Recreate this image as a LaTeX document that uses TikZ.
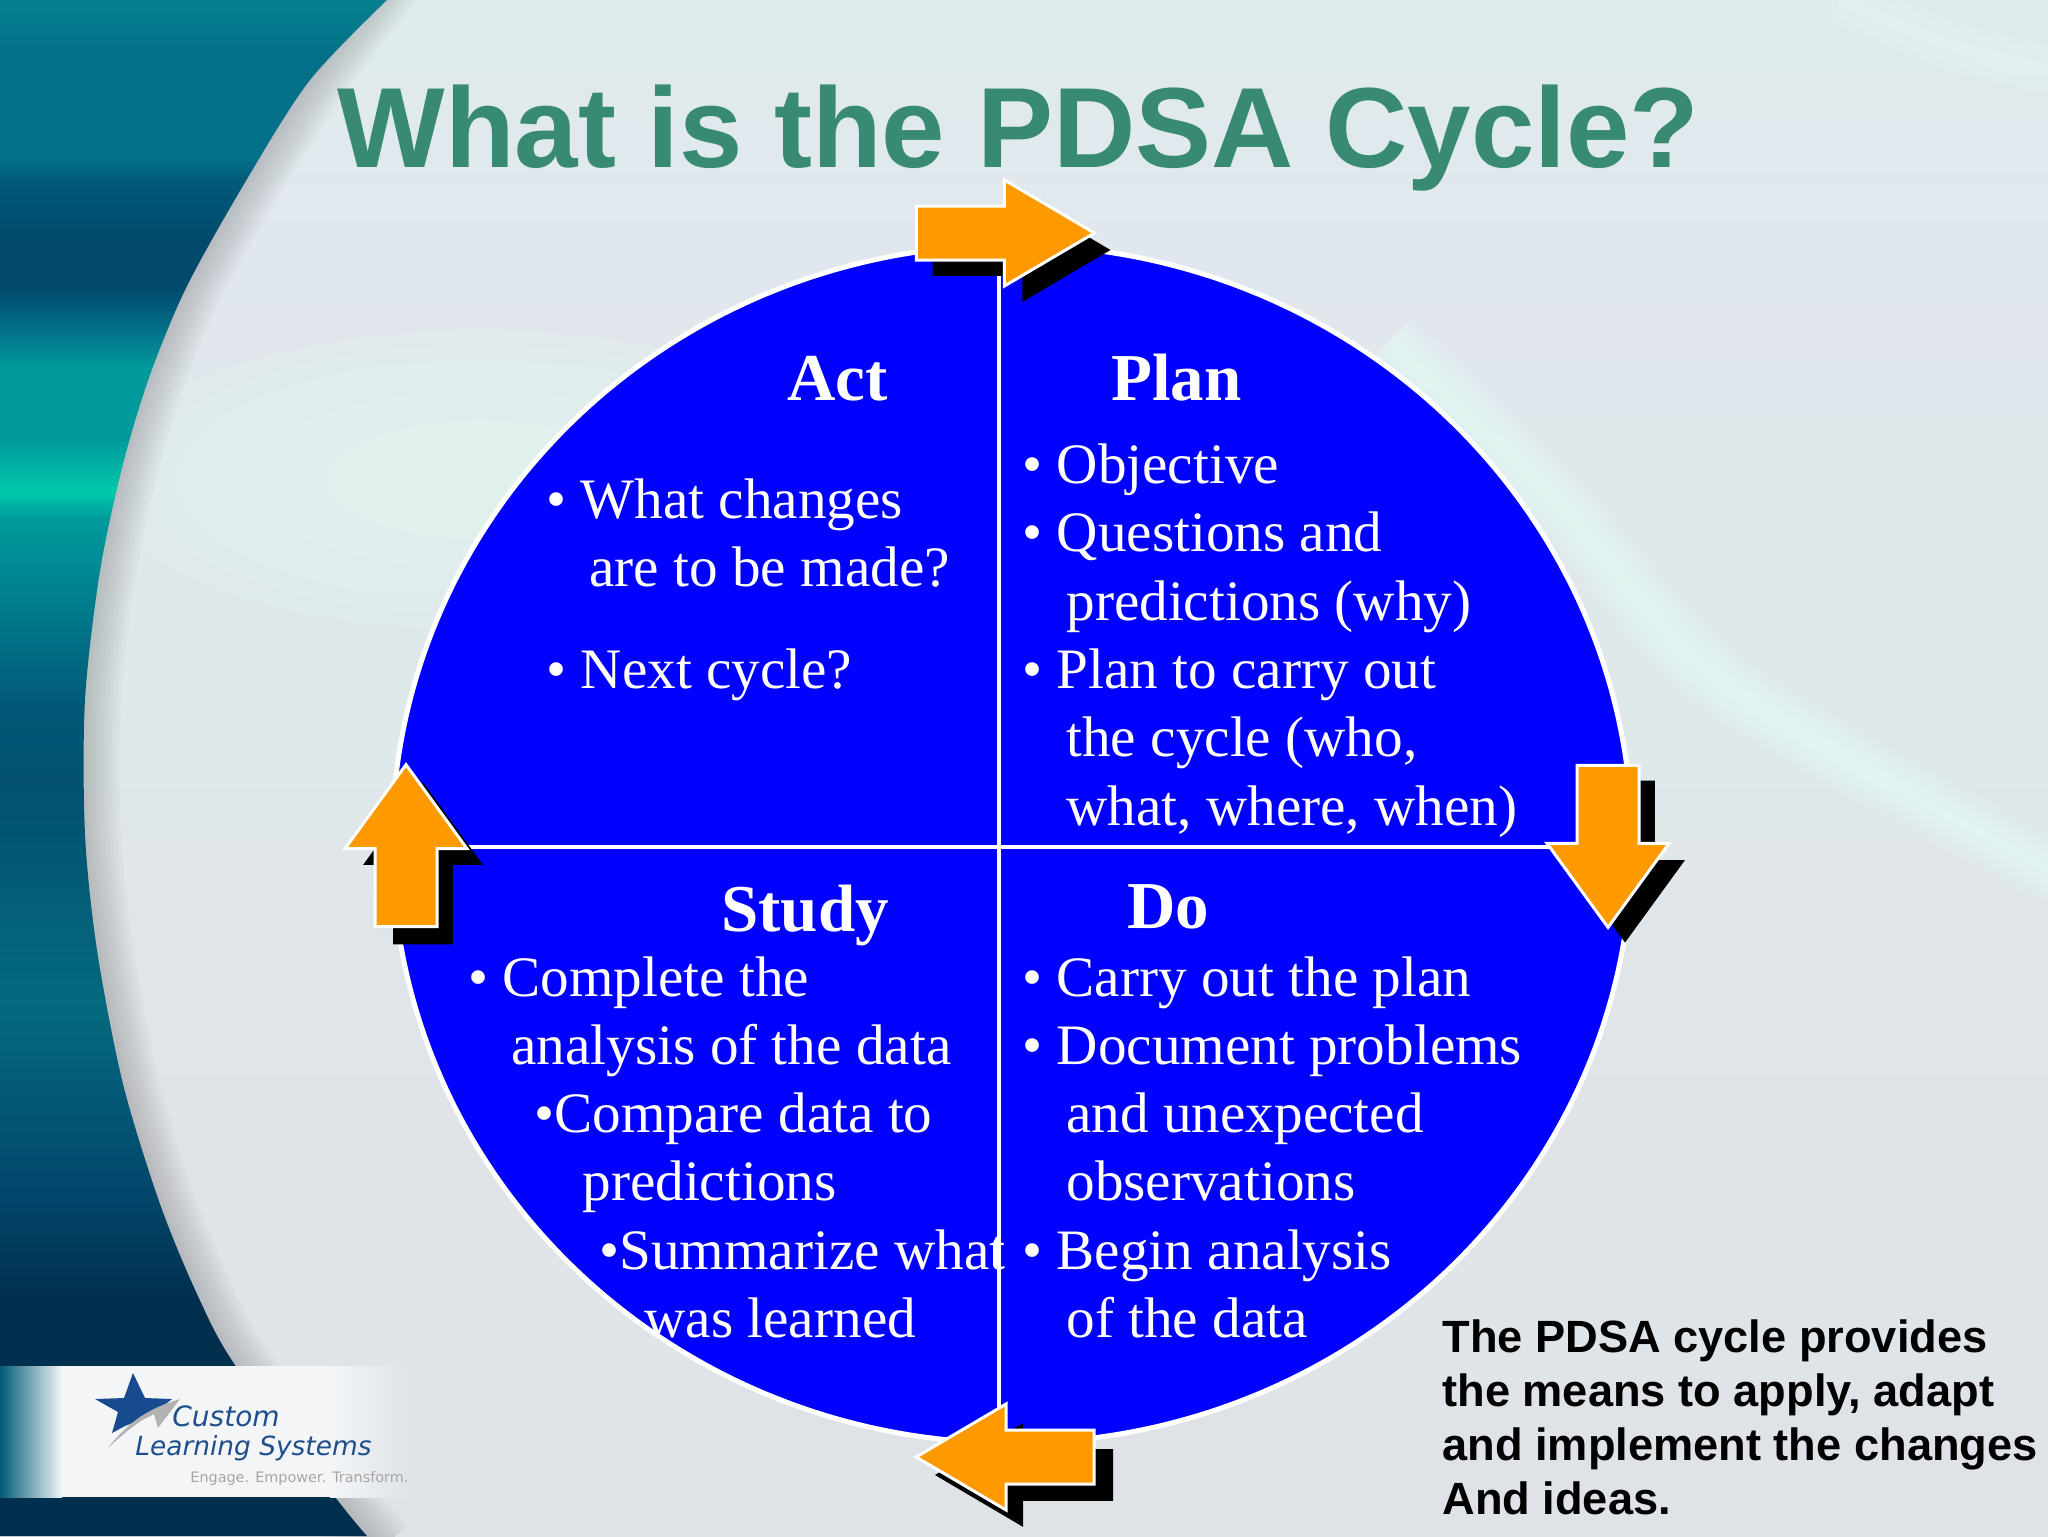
\documentclass[tikz,border=0pt]{standalone}
\usepackage{fontspec}
\usepackage{xcolor}
\usepackage{tikz}
\usetikzlibrary{shapes.arrows,shapes.geometric}
\setmainfont{Liberation Serif}
\newfontfamily\headfont{Liberation Sans}
\newfontfamily\logofont{DejaVu Sans}
\definecolor{discblue}{rgb}{0.0,0.0,1.0}
\definecolor{arroworange}{HTML}{FF9900}
\definecolor{titlegreen}{HTML}{388B72}
\definecolor{logoblue}{HTML}{1F4E8C}
\definecolor{starblue}{HTML}{174A8F}
\definecolor{stripwhite}{HTML}{F3F5F7}
\definecolor{mintglow}{HTML}{E6FFF8}
\definecolor{paleA}{HTML}{DFECEC}
\definecolor{paleB}{HTML}{E1E7EE}
\definecolor{paleC}{HTML}{DFE9EA}
\definecolor{paleD}{HTML}{E0E5E9}
\definecolor{paleE}{HTML}{DFE3E7}
\definecolor{tealA}{HTML}{05808F}
\definecolor{tealB}{HTML}{036F88}
\definecolor{tealC}{HTML}{015A78}
\definecolor{tealD}{HTML}{014A6C}
\definecolor{tealE}{HTML}{009A9C}
\definecolor{tealF}{HTML}{00C8AC}
\definecolor{tealG}{HTML}{007F8E}
\definecolor{tealH}{HTML}{03506F}
\definecolor{tealI}{HTML}{046A80}
\definecolor{tealJ}{HTML}{02456A}
\definecolor{tealK}{HTML}{012F4E}
\pgfdeclareverticalshading{tealband}{100bp}{color(0bp)=(tealK); color(25bp)=(tealK); color(32.7bp)=(tealK); color(35.9bp)=(tealJ); color(42.4bp)=(tealI); color(49.6bp)=(tealH); color(52.2bp)=(tealC); color(55.5bp)=(tealG); color(58.1bp)=(tealE); color(59bp)=(tealF); color(60.7bp)=(tealE); color(63bp)=(tealE); color(64.3bp)=(tealB); color(65.6bp)=(tealD); color(67.2bp)=(tealD); color(69.1bp)=(tealC); color(69.8bp)=(tealB); color(73bp)=(tealB); color(75bp)=(tealA); color(100bp)=(tealA)}
\pgfdeclareverticalshading{paleband}{100bp}{color(0bp)=(paleE); color(25bp)=(paleE); color(45bp)=(paleD); color(52bp)=(paleC); color(67bp)=(paleB); color(75bp)=(paleA); color(100bp)=(paleA)}
\tikzset{
	headtext/.style={anchor=base west, text=white, inner sep=0pt, font=\fontsize{33.5}{33.5}\selectfont\bfseries},
	bodytext/.style={anchor=base west, text=white, inner sep=0pt, font=\fontsize{28.6}{28.6}\selectfont},
	notetext/.style={anchor=base west, text=black, inner sep=0pt, font=\headfont\fontsize{22.6}{22.6}\selectfont\bfseries},
	cyclearrow/.style={single arrow, inner sep=0pt, outer sep=0pt, single arrow head indent=0pt, text depth=0pt},
	longarrow/.style={cyclearrow, text height=25.5pt, minimum height=89pt, single arrow head extend=13pt, single arrow tip angle=61},
	shortarrow/.style={cyclearrow, text height=29.5pt, minimum height=81pt, single arrow head extend=15pt, single arrow tip angle=72},
	orangefill/.style={fill=arroworange, draw=white, line width=1.5pt},
	blackfill/.style={fill=black}
}

\begin{document}
\begin{tikzpicture}[x=0.5pt,y=-0.5pt]
	\useasboundingbox (0,0) rectangle (2048,1536);
	\shade[shading=paleband] (0,0) rectangle (2048,1536);

	% soft glows on the pale part
	\foreach \w in {32,28,24,20,16,12,8,4}
		\draw[mintglow, opacity=0.12, line width=\w pt] plot[smooth] coordinates {(1390,340) (1567,514) (1729,688) (2060,875)};
	\foreach \w in {24,18,12,6}
		\draw[mintglow, opacity=0.1, line width=\w pt] plot[smooth] coordinates {(1840,0) (1950,45) (2060,72)};
	\foreach \r in {1,0.9,0.8,0.7,0.6,0.5,0.4,0.3}
		\fill[mintglow, opacity=0.09] (480,480) ellipse ({\r*380} and {\r*150});

	% shade beside the swoosh, then the swoosh
	\foreach \w in {36,32,28,24,20,16,12,8,4}
		\draw[gray, opacity=0.05, line width=\w pt] plot[smooth] coordinates {(387,-20) (310,80) (247,179) (187,286) (150,375) (123,464) (100,571) (85,700) (85,834) (97,950) (123,1084) (160,1204) (197,1294) (235,1365) (335,1497) (380,1550)};
	\shade[shading=tealband] (0,0) -- (387,0) -- plot[smooth] coordinates {(387,0) (310,80) (247,179) (187,286) (150,375) (123,464) (100,571) (85,700) (85,834) (97,950) (123,1084) (160,1204) (197,1294) (235,1365) (335,1497) (367,1536)} -- (0,1536) -- cycle;

	% logo strip
	\shade[left color=tealC, right color=stripwhite] (0,1366) rectangle (62,1497);
	\fill[stripwhite] (62,1366) rectangle (330,1497);
	\shade[left color=stripwhite, right color=paleE] (330,1366) rectangle (410,1497);
	\fill[starblue] (133,1373) -- (145,1398) -- (172,1399) -- (150,1416) -- (125,1426) -- (112,1433) -- (118,1412) -- (95,1399) -- (124,1398) -- cycle;
	\fill[gray!60] (108,1448) .. controls (130,1420) and (150,1408) .. (180,1399) -- (158,1428) -- (154,1414) .. controls (140,1420) and (125,1432) .. (108,1448) -- cycle;
	\node[anchor=base west, inner sep=0pt, text=logoblue, font=\logofont\itshape\fontsize{14}{14}\selectfont] (logotop) at (172,1426) {Custom};
	\node[anchor=base west, inner sep=0pt, text=logoblue, font=\logofont\itshape\fontsize{13.2}{13.2}\selectfont] (logomid) at (135,1455) {Learning Systems};
	\node[anchor=base west, inner sep=0pt, text=gray!70, font=\logofont\fontsize{7.2}{7.2}\selectfont] (logolow) at (190,1482) {Engage. Empower. Transform.};

	\node[anchor=base west, inner sep=0pt, text=titlegreen, font=\headfont\fontsize{57}{57}\selectfont\bfseries] (title) at (337,167) {What is the PDSA Cycle?};

	\node[ellipse, minimum width=620pt, minimum height=599pt, inner sep=0pt, fill=discblue, draw=white, line width=2.5pt] (disc) at (1012,844) {};

	\node[headtext] (acthead) at (787,400) {Act};
	\node[headtext] (planhead) at (1111,400) {Plan};
	\node[headtext] (studyhead) at (721,931) {Study};
	\node[headtext] (dohead) at (1127,928) {Do};

	\foreach \x/\y/\txt [count=\i] in {546/518/{• What changes}, 589/586/{are to be made?}, 546/688/{• Next cycle?}}
		\node[bodytext] (act\i) at (\x,\y) {\txt};
	\foreach \x/\y/\txt [count=\i] in {1022/483/{• Objective}, 1022/551/{• Questions and}, 1066/620/{predictions (why)}, 1022/688/{• Plan to carry out}, 1066/756/{the cycle (who,}, 1066/825/{what, where, when)}}
		\node[bodytext] (plan\i) at (\x,\y) {\txt};
	\foreach \x/\y/\txt [count=\i] in {468/996/{• Complete the}, 511/1064/{analysis of the data}, 534/1132/{•Compare data to}, 582/1200/{predictions}, 599/1269/{•Summarize what}, 644/1337/{was learned}}
		\node[bodytext] (study\i) at (\x,\y) {\txt};
	\foreach \x/\y/\txt [count=\i] in {1022/996/{• Carry out the plan}, 1022/1064/{• Document problems}, 1066/1132/{and unexpected}, 1066/1200/{observations}, 1022/1269/{• Begin analysis}, 1066/1337/{of the data}}
		\node[bodytext] (do\i) at (\x,\y) {\txt};

	\draw[white, line width=2pt] (disc.north) ++(-13,0) coordinate (linetop) -- (999,1443) coordinate (linelow);
	\draw[white, line width=2pt] (disc.west) ++(0,3) coordinate (lineleft) -- ([yshift=-1.5pt] disc.east) coordinate (lineright);

	% arrows, shadow first
	\node[longarrow, blackfill] (shadowplan) at (999.5,250) {};
	\node[longarrow, orangefill, xshift=-8.5pt, yshift=8.5pt] (arrowplan) at (shadowplan) {};
	\node[shortarrow, blackfill, rotate=-90] (shadowdo) at (1625,841) {};
	\node[shortarrow, orangefill, rotate=-90, xshift=-8pt, yshift=-8.5pt] (arrowdo) at (shadowdo) {};
	\node[longarrow, blackfill, rotate=180] (shadowact) at (1046,1475) {};
	\node[longarrow, orangefill, rotate=180, xshift=9pt, yshift=-9pt] (arrowact) at (shadowact) {};
	\node[shortarrow, blackfill, rotate=90] (shadowstudy) at (423,884) {};
	\node[shortarrow, orangefill, rotate=90, xshift=8.5pt, yshift=8.5pt] (arrowstudy) at (shadowstudy) {};

	\node[notetext] (note1) at (1442,1352) {The PDSA cycle provides};
	\node[notetext] (note2) at (1442,1406) {the means to apply, adapt};
	\node[notetext] (note3) at (1442,1460) {and implement the changes};
	\node[notetext] (note4) at (1442,1514) {And ideas.};
\end{tikzpicture}
\end{document}
